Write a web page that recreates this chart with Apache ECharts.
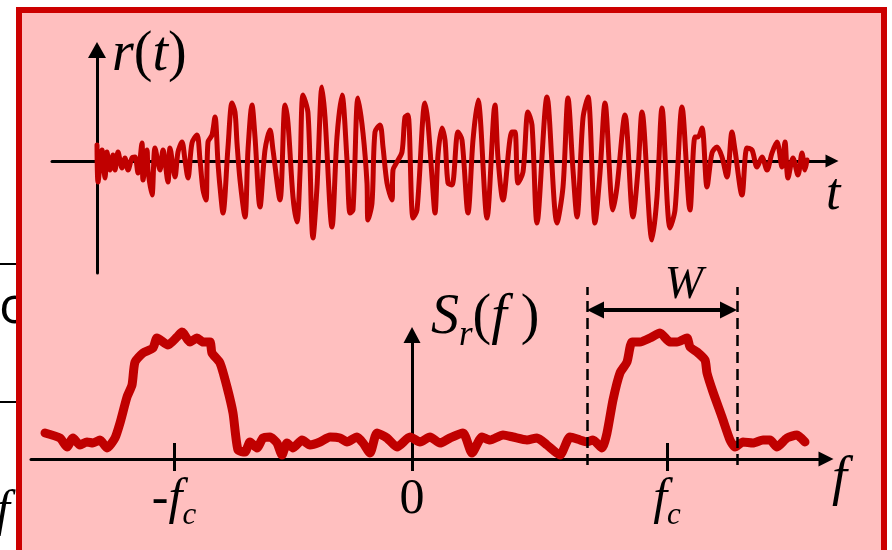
<!DOCTYPE html>
<html>
<head>
<meta charset="utf-8">
<title>r(t) 与 S_r(f)</title>
<script src="https://cdn.jsdelivr.net/npm/echarts@6/dist/echarts.min.js"></script>
<style>
  html, body { margin: 0; padding: 0; background: #fff; }
  #chart { width: 892px; height: 550px; }
</style>
</head>
<body>
<div id="chart"></div>
<script>
// r(t): time offset from the vertical axis, amplitude above the t axis
var signalT = [0, 1, 5, 8, 10, 13, 16, 18, 21, 25, 28, 31, 35, 38, 41, 45, 46, 50, 51, 55,
  58, 63, 66, 71, 73, 78, 81, 85, 88, 91, 95, 100, 103, 106, 109, 111, 115, 118, 121, 123,
  126, 131, 135, 138, 140, 143, 148, 151, 155, 158, 163, 168, 173, 176, 183, 188, 191, 196, 200, 203,
  206, 211, 216, 220, 225, 228, 235, 240, 245, 250, 253, 256, 261, 266, 270, 271, 275, 278, 283, 286,
  290, 295, 296, 300, 305, 308, 311, 316, 320, 328, 331, 335, 338, 341, 345, 348, 351, 355, 361, 365,
  371, 376, 381, 390, 398, 401, 406, 415, 418, 421, 426, 431, 435, 440, 450, 460, 466, 471, 476, 480,
  486, 491, 498, 503, 508, 516, 520, 528, 536, 541, 545, 555, 560, 565, 573, 578, 585, 593, 598, 601,
  605, 610, 615, 620, 625, 630, 635, 638, 645, 650, 655, 660, 665, 670, 675, 680, 685, 688, 691, 696,
  701, 705, 708, 710];
var signalR = [16, -21, 11, -17, 9, -9, 6, -9, 9, -7, 3, -9, 3, 4, -12, 18, -19, 11, -9, -34,
  13, -9, 11, -21, 13, -16, 9, 19, 1, -17, 18, 26, 1, -29, -39, 19, 26, 44, -2, -26,
  -52, 14, 58, 49, 18, -19, -56, 11, 56, 24, -46, 11, 31, 11, -39, 56, 38, -36, -61, -12,
  66, 48, -77, -26, 74, 44, -66, 24, 66, 1, -52, -49, 63, 28, -22, -59, -42, 29, 36, 14,
  -22, -39, -9, -1, 9, 44, 46, -57, -49, 58, 38, -16, -52, 6, 33, 21, -22, -24, 29, 21,
  -52, 21, 61, -57, 56, 3, -39, 29, 29, -22, -11, 49, 36, -62, 64, -62, -26, 63, -9, -56,
  43, 64, -62, -12, 58, -49, -26, 46, -56, -9, 49, -79, -36, 53, -67, -49, 54, -49, 24, 24,
  33, -26, 8, 14, 4, -16, 29, 11, -34, 13, 11, -6, 4, -9, 8, 19, -6, 19, -17, 3,
  -14, 8, -9, 1];

// S_r(f): frequency offset from the vertical axis, spectral level above the f axis
var spectrumF = [-367, -352, -345, -339, -332, -325, -319, -312, -305, -297, -292, -285, -280, -277, -269, -259, -255, -244, -235, -230,
  -222, -215, -209, -202, -200, -192, -185, -179, -174, -167, -162, -155, -149, -142, -135, -130, -125, -119, -110, -102,
  -92, -82, -72, -65, -55, -49, -42, -35, -25, -15, -2, 8, 18, 28, 38, 51, 60, 70, 78, 91,
  101, 115, 125, 135, 148, 158, 168, 175, 181, 190, 195, 201, 208, 215, 220, 228, 238, 248, 258, 265,
  275, 278, 285, 293, 295, 301, 310, 318, 323, 331, 341, 351, 358, 365, 375, 385, 393];
var spectrumS = [26, 21, 12, 21, 14, 17, 16, 19, 11, 21, 36, 62, 74, 97, 106, 111, 121, 114, 122, 127,
  117, 121, 117, 117, 106, 96, 72, 46, 9, 7, 17, 11, 21, 22, 16, 4, 16, 11, 19, 14,
  17, 22, 21, 17, 22, 16, 6, 26, 21, 12, 22, 17, 22, 16, 21, 26, 6, 22, 19, 24,
  22, 19, 21, 14, 4, 22, 19, 17, 19, 11, 26, 59, 86, 97, 117, 117, 121, 126, 117, 117,
  121, 112, 107, 99, 86, 67, 42, 19, 12, 17, 16, 19, 19, 12, 21, 24, 17];

var tickValues = [-238, 0, 255];
var tickLabels = ['-f_c', '0', 'f_c'];
var bandEdges = [175, 325];      // dashed lines bounding W
var bandDash = [-6, 172];        // vertical extent of the dashed lines
var bandArrowLevel = 149;        // height of the W arrow

var serif = '"Liberation Serif", "Times New Roman", serif';
var red = '#c00000';
var arrowHead = 17;                // px; f axis is 1 unit per px, so half a head keeps the tips on the dashes
var arrowInset = arrowHead / 2;

function richLabel(s) {
    var m = s.match(/^(-?)(\w)_(\w)$/);
    if (!m) return '{n|' + s + '}';
    return (m[1] ? '{n|' + m[1] + '}' : '') + '{i|' + m[2] + '}{s|' + m[3] + '}';
}

function mathRich(size) {
    return {
        n: { fontFamily: serif, fontSize: size, color: '#000', verticalAlign: 'top' },
        i: { fontFamily: serif, fontStyle: 'italic', fontSize: size, color: '#000', verticalAlign: 'top' },
        s: { fontFamily: serif, fontStyle: 'italic', fontSize: Math.round(size * 0.62), color: '#000',
             padding: [Math.round(size * 0.5), 0, 0, 0], verticalAlign: 'bottom' }
    };
}

var chart = echarts.init(document.getElementById('chart'));

var hiddenAxis = { show: false };

var option = {
    backgroundColor: '#fff',
    animation: false,
    grid: [
        { left: 52, top: 50, width: 780, height: 223 },
        { left: 31, top: 335, width: 795, height: 124 },
        { left: 31, top: 280, width: 795, height: 190 }   // room for the W markers
    ],
    xAxis: [
        {
            gridIndex: 0, type: 'value', min: -45, max: 735,
            axisLine: { onZero: true, symbol: ['none', 'triangle'], symbolSize: [13, 13], lineStyle: { color: '#000', width: 3 } },
            axisTick: { show: false }, axisLabel: { show: false }, splitLine: { show: false }
        },
        {
            gridIndex: 1, type: 'value', min: -381, max: 414, position: 'bottom',
            axisLine: { symbol: ['none', 'triangle'], symbolSize: [15, 15], lineStyle: { color: '#000', width: 3 } },
            axisTick: { customValues: tickValues, length: 12, lineStyle: { color: '#000', width: 3 } },
            axisLabel: {
                customValues: tickValues, margin: 16,
                formatter: function (v) { return richLabel(tickLabels[tickValues.indexOf(v)]); },
                rich: mathRich(50)
            },
            splitLine: { show: false }
        },
        {
            gridIndex: 1, type: 'value', min: -381, max: 414, position: 'bottom',
            axisLine: { show: false },
            axisTick: { customValues: [tickValues[0], tickValues[2]], inside: true, length: 16, lineStyle: { color: '#000', width: 3 } },
            axisLabel: { show: false }, splitLine: { show: false }
        },
        Object.assign({ gridIndex: 2, type: 'value', min: -381, max: 414 }, hiddenAxis)
    ],
    yAxis: [
        {
            gridIndex: 0, type: 'value', min: -112, max: 111,
            axisLine: { onZero: true, symbol: ['none', 'triangle'], symbolSize: [18, 16], lineStyle: { color: '#000', width: 3 } },
            axisTick: { show: false }, axisLabel: { show: false }, splitLine: { show: false }
        },
        {
            gridIndex: 1, type: 'value', min: 0, max: 124,
            axisLine: { onZero: true, symbol: ['none', 'triangle'], symbolSize: [17, 16], lineStyle: { color: '#000', width: 3 } },
            axisTick: { show: false }, axisLabel: { show: false }, splitLine: { show: false }
        },
        Object.assign({ gridIndex: 2, type: 'value', min: -11, max: 179 }, hiddenAxis)
    ],
    series: [
        {
            name: 'r(t)', type: 'line', xAxisIndex: 0, yAxisIndex: 0,
            data: signalT.map(function (t, i) { return [t, signalR[i]]; }),
            showSymbol: false, symbol: 'none', clip: false, smooth: 0.3,
            lineStyle: { color: red, width: 5, join: 'round', cap: 'round' }
        },
        {
            name: 'S_r(f)', type: 'line', xAxisIndex: 1, yAxisIndex: 1,
            data: spectrumF.map(function (f, i) { return [f, spectrumS[i]]; }),
            showSymbol: false, symbol: 'none', clip: false, smooth: 0.2,
            lineStyle: { color: red, width: 9, join: 'round', cap: 'round' }
        },
        {
            name: 'band', type: 'line', xAxisIndex: 3, yAxisIndex: 2, data: [], clip: false,
            markLine: {
                silent: true, symbol: 'none', animation: false,
                label: { show: false },
                lineStyle: { color: '#000', type: [11, 6], width: 2.5 },
                emphasis: { disabled: true },
                data: bandEdges.map(function (f) {
                    return [{ coord: [f, bandDash[0]] }, { coord: [f, bandDash[1]] }];
                })
            }
        },
        {
            name: 'W', type: 'line', xAxisIndex: 3, yAxisIndex: 2, data: [], clip: false,
            markLine: {
                silent: true, symbol: ['triangle', 'triangle'], symbolSize: [arrowHead, arrowHead], animation: false,
                label: { show: false },
                lineStyle: { color: '#000', type: 'solid', width: 4 },
                emphasis: { disabled: true },
                data: [[{ coord: [bandEdges[0] + arrowInset, bandArrowLevel] }, { coord: [bandEdges[1] - arrowInset, bandArrowLevel] }]]
            }
        }
    ],
    graphic: [
        // fragments of the slide behind the box
        { type: 'line', z: -20, shape: { x1: 0, y1: 264, x2: 20, y2: 264 }, style: { stroke: '#000', lineWidth: 2 } },
        { type: 'line', z: -20, shape: { x1: 0, y1: 402, x2: 20, y2: 402 }, style: { stroke: '#000', lineWidth: 2 } },
        { type: 'text', z: -20, x: -1, y: 308, style: { text: 'o', font: '52px "Open Sans", sans-serif', fill: '#000', verticalAlign: 'middle' } },
        { type: 'text', z: -20, x: -4, y: 512, style: { text: 'f', font: 'italic 50px ' + serif, fill: '#000', verticalAlign: 'middle' } },
        // the pink box
        { type: 'rect', z: -10, shape: { x: 19, y: 10, width: 865, height: 580 }, style: { fill: '#ffbfbf', stroke: '#cc0000', lineWidth: 6 } },
        // axis titles
        { type: 'text', z: 10, x: 112, y: 55, style: { text: '{i|r}{n|(}{i|t}{n|)}', verticalAlign: 'middle', rich: mathRich(56) } },
        { type: 'text', z: 10, x: 826, y: 195, style: { text: 't', font: 'italic 52px ' + serif, fill: '#000', verticalAlign: 'middle' } },
        { type: 'text', z: 10, x: 431, y: 322, style: { text: '{i|S}{s|r}{n|(}{i|f }{n|)}', verticalAlign: 'middle', rich: mathRich(56) } },
        { type: 'text', z: 10, x: 832, y: 480, style: { text: 'f', font: 'italic 54px ' + serif, fill: '#000', verticalAlign: 'middle' } },
        { type: 'text', z: 10, x: 684, y: 286, style: { text: 'W', font: 'italic 46px ' + serif, fill: '#000', align: 'center', verticalAlign: 'middle' } }
    ]
};

chart.setOption(option);
</script>
</body>
</html>
